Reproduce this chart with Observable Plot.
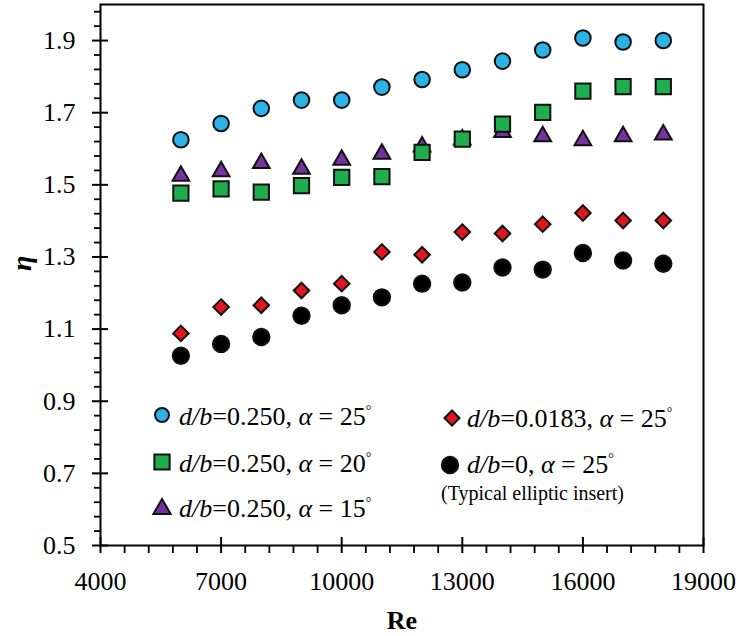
<!DOCTYPE html>
<html><head><meta charset="utf-8">
<script src="https://cdn.jsdelivr.net/npm/d3@7"></script>
<script src="https://cdn.jsdelivr.net/npm/@observablehq/plot@0.6"></script>
<style>html,body{margin:0;padding:0;background:#fff;} svg{display:block}</style>
</head><body><div id="chart"></div>
<script>
// ---- data ----
const reynolds = [6000, 7000, 8000, 9000, 10000, 11000, 12000, 13000, 14000, 15000, 16000, 17000, 18000];
const etaD0250A25 = [1.625, 1.670, 1.712, 1.735, 1.735, 1.771, 1.792, 1.819, 1.843, 1.874, 1.907, 1.896, 1.900];
const etaD0250A20 = [1.477, 1.489, 1.480, 1.498, 1.521, 1.523, 1.590, 1.627, 1.668, 1.701, 1.760, 1.772, 1.772];
const etaD0250A15 = [1.525, 1.537, 1.560, 1.544, 1.569, 1.586, 1.606, 1.625, 1.646, 1.634, 1.623, 1.634, 1.639];
const etaD00183A25 = [1.088, 1.161, 1.166, 1.207, 1.226, 1.314, 1.306, 1.369, 1.365, 1.391, 1.422, 1.401, 1.401];
const etaD0A25 = [1.026, 1.059, 1.078, 1.137, 1.166, 1.188, 1.226, 1.229, 1.271, 1.265, 1.311, 1.290, 1.281];

const xTicks = [4000, 7000, 10000, 13000, 16000, 19000];
const yTicks = [0.5, 0.7, 0.9, 1.1, 1.3, 1.5, 1.7, 1.9];
const xMinor = d3.range(4000, 19000, 600).filter(v => !xTicks.includes(v));
const yMinor = d3.range(0, 38).map(i => +(0.5 + i * 0.04).toFixed(2)).filter(v => !yTicks.some(t => Math.abs(t - v) < 1e-9));

const series = [
  {values: etaD0250A15, symbol: "triangle", fill: "#7431a0", r: 6.2},
  {values: etaD0250A20, symbol: "square", fill: "#1fae4e", r: 8.6},
  {values: etaD0250A25, symbol: "circle", fill: "#2bb3e6", r: 7.8},
  {values: etaD00183A25, symbol: "diamond2", fill: "#df161e", r: 7},
  {values: etaD0A25, symbol: "circle", fill: "#000000", r: 8.2}
];
const toRows = vals => vals.map((v, i) => ({Re: reynolds[i], eta: v}));

const W = 742, H = 636, ML = 100, MR = 39, MT = 4, MB = 91;
const frameW = W - ML - MR, frameH = H - MT - MB;
const font = "'Liberation Serif', 'Times New Roman', serif";

const chart = Plot.plot({
  width: W, height: H,
  marginLeft: ML, marginRight: MR, marginTop: MT, marginBottom: MB,
  x: {domain: [4000, 19000]},
  y: {domain: [0.5, 2.0]},
  style: {fontFamily: font, fontSize: "26px", color: "black", background: "white"},
  marks: [
    Plot.axisX({ticks: xTicks, tickSize: 8, tickPadding: 18, fontSize: 26, strokeWidth: 2, label: null, tickFormat: d => String(d)}),
    Plot.axisX({ticks: xMinor, tickSize: 8, text: null, strokeWidth: 1.8, label: null}),
    Plot.tickX(xTicks, {x: d => d, insetTop: frameH - 8, strokeWidth: 2}),
    Plot.axisY({ticks: yTicks, tickSize: 8, tickPadding: 17, fontSize: 26, strokeWidth: 2, label: null, tickFormat: d => d.toFixed(1)}),
    Plot.axisY({ticks: yMinor, tickSize: 6, text: null, strokeWidth: 1.8, label: null}),
    Plot.tickY(yTicks, {y: d => d, insetRight: frameW - 8, strokeWidth: 2}),
    Plot.frame({stroke: "black", strokeWidth: 2}),
    ...series.map(s => Plot.dot(toRows(s.values), {
      x: "Re", y: "eta", symbol: s.symbol, r: s.r, fill: s.fill,
      stroke: "#111", strokeWidth: 2
    })),
    Plot.text(["η"], {frameAnchor: "left", dx: -78, dy: -4, rotate: -90, fontSize: 28, fontWeight: "bold", fontStyle: "italic"}),
    Plot.text(["Re"], {frameAnchor: "bottom", dy: 83, lineAnchor: "bottom", fontSize: 26, fontWeight: "bold"})
  ]
});
document.getElementById("chart").appendChild(chart);

// ---- legend (inside the plot area) ----
const svg = d3.select(chart);
const lg = svg.append("g").attr("font-family", font).attr("fill", "black")
  .attr("text-anchor", "start").style("white-space", "pre");
const legendItems = [
  {symbol: d3.symbolCircle, fill: "#2bb3e6", r: 7, mx: 162, my: 415, tx: 179, ty: 425, db: "0.250", a: "25"},
  {symbol: d3.symbolSquare, fill: "#1fae4e", r: 8.6, mx: 162, my: 462, tx: 179, ty: 472, db: "0.250", a: "20"},
  {symbol: d3.symbolTriangle, fill: "#7431a0", r: 6.4, mx: 162, my: 509, tx: 179, ty: 517, db: "0.250", a: "15"},
  {symbol: d3.symbolDiamond2, fill: "#df161e", r: 6.8, mx: 452, my: 418, tx: 467, ty: 427, db: "0.0183", a: "25"},
  {symbol: d3.symbolCircle, fill: "#000000", r: 8.2, mx: 450, my: 465, tx: 467, ty: 473, db: "0", a: "25"}
];
for (const it of legendItems) {
  lg.append("path")
    .attr("d", d3.symbol(it.symbol, Math.PI * it.r * it.r)())
    .attr("transform", `translate(${it.mx},${it.my})`)
    .attr("fill", it.fill).attr("stroke", "#111").attr("stroke-width", 2);
  const t = lg.append("text").attr("x", it.tx).attr("y", it.ty).attr("font-size", 26).attr("text-anchor", "start");
  t.append("tspan").attr("font-style", "italic").text("d/b");
  t.append("tspan").text(`=${it.db}, `);
  t.append("tspan").attr("font-style", "italic").text("α");
  t.append("tspan").text(` = ${it.a}`);
  t.append("tspan").attr("font-size", 14).attr("dy", -10).text("°");
}
lg.append("text").attr("x", 441).attr("y", 500).attr("font-size", 20).attr("text-anchor", "start").text("(Typical elliptic insert)");
</script>
</body></html>
